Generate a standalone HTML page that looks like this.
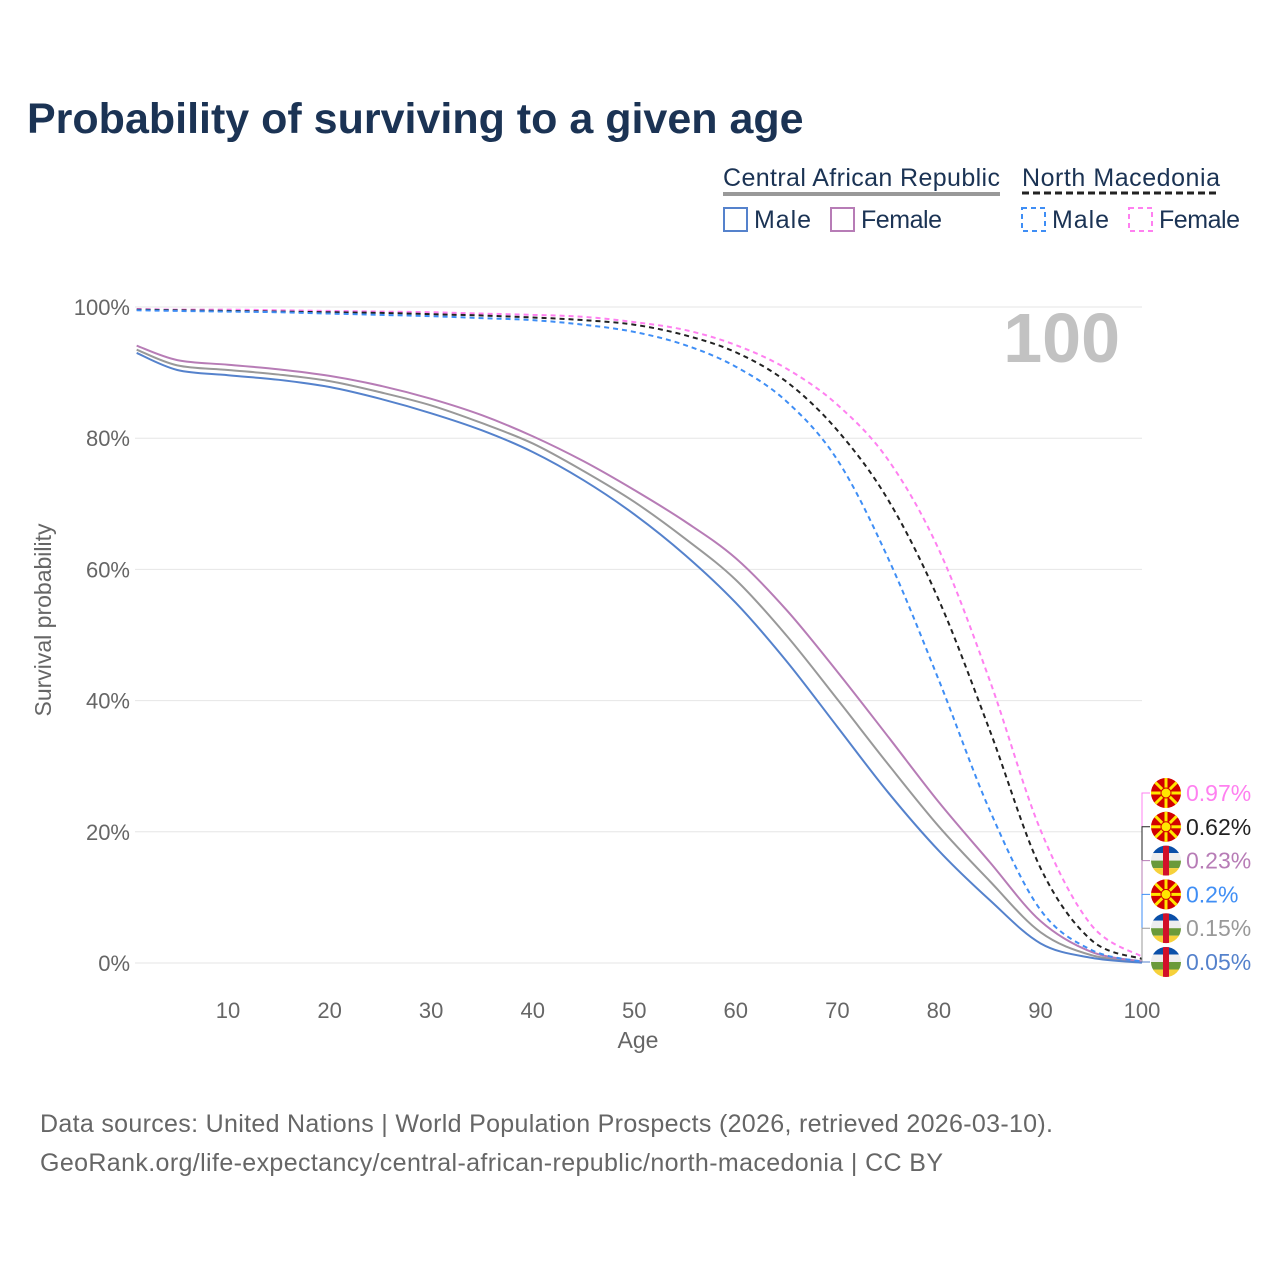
<!DOCTYPE html>
<html><head><meta charset="utf-8"><style>
body{margin:0;background:#fff;font-family:"Liberation Sans",sans-serif}
svg text{font-family:"Liberation Sans",sans-serif}
</style></head><body>
<svg id="c" width="1280" height="1280" xmlns="http://www.w3.org/2000/svg">
<text x="27" y="133" font-size="43" font-weight="bold" fill="#1b3354">Probability of surviving to a given age</text>
<g>
<text x="723" y="186" font-size="25" textLength="277" fill="#1b3354">Central African Republic</text>
<line x1="723" y1="194" x2="1000" y2="194" stroke="#999" stroke-width="4"/>
<text x="1022" y="186" font-size="25" textLength="198" fill="#1b3354">North Macedonia</text>
<line x1="1022" y1="193" x2="1220" y2="193" stroke="#222" stroke-width="3" stroke-dasharray="7,4"/>
<rect x="724" y="208" width="23" height="23" fill="none" stroke="#5582cc" stroke-width="2"/>
<text x="754" y="228" font-size="25" textLength="57" fill="#1b3354">Male</text>
<rect x="831" y="208" width="23" height="23" fill="none" stroke="#b77cb6" stroke-width="2"/>
<text x="861" y="228" font-size="25" textLength="81" fill="#1b3354">Female</text>
<rect x="1022" y="208" width="23" height="23" fill="none" stroke="#3f8ef5" stroke-width="2" stroke-dasharray="5,4"/>
<text x="1052" y="228" font-size="25" textLength="57" fill="#1b3354">Male</text>
<rect x="1129" y="208" width="23" height="23" fill="none" stroke="#ff80f0" stroke-width="2" stroke-dasharray="5,4"/>
<text x="1159" y="228" font-size="25" textLength="81" fill="#1b3354">Female</text>
</g>
<g id="grid"></g>
<text x="1120" y="362" font-size="70" font-weight="bold" fill="#c2c2c2" text-anchor="end">100</text>
<g id="lines"></g>
<g id="labels"></g>
<text x="638" y="1048" font-size="23" fill="#666" text-anchor="middle">Age</text>
<text transform="translate(51,620) rotate(-90)" font-size="23" fill="#666" text-anchor="middle">Survival probability</text>
<text x="40" y="1132" font-size="25" textLength="1013" fill="#666">Data sources: United Nations | World Population Prospects (2026, retrieved 2026-03-10).</text>
<text x="40" y="1171" font-size="25" textLength="903" fill="#666">GeoRank.org/life-expectancy/central-african-republic/north-macedonia | CC BY</text>
</svg>
<script>
const ages=[1,5,10,15,20,25,30,35,40,45,50,55,60,65,70,75,80,85,90,95,100];
const cafMale=[93.0,90.4,89.6,88.9,87.8,86.0,83.8,81.2,77.9,73.6,68.4,62.2,54.9,46.0,36.0,26.0,17.1,9.6,3.0,0.8,0.05];
const cafTotal=[93.5,91.1,90.4,89.7,88.7,87.0,85.0,82.3,79.2,75.0,70.3,64.7,58.4,49.9,40.2,30.3,20.8,12.5,4.7,1.2,0.15];
const cafFemale=[94.1,91.9,91.2,90.5,89.5,88.0,86.0,83.5,80.3,76.5,72.1,67.3,61.7,53.8,44.4,34.5,24.5,15.4,6.4,1.7,0.23];
const mkdMale=[99.5,99.4,99.3,99.2,99.0,98.8,98.6,98.3,98.0,97.3,96.2,94.2,90.9,85.6,76.7,61.7,43.1,23.3,8.1,2.0,0.2];
const mkdTotal=[99.6,99.5,99.4,99.3,99.2,99.1,98.9,98.7,98.4,98.0,97.3,95.7,93.1,88.6,81.2,70.6,55.3,35.5,14.5,3.5,0.62];
const mkdFemale=[99.7,99.6,99.6,99.5,99.4,99.3,99.2,99.0,98.8,98.5,97.7,96.5,94.2,90.6,85.1,76.7,63.0,43.1,20.3,5.8,0.97];
const xTicks=[10,20,30,40,50,60,70,80,90,100];
const yTicks=[0,20,40,60,80,100];
const endLabels=["0.97%","0.62%","0.23%","0.2%","0.15%","0.05%"];
const NS="http://www.w3.org/2000/svg";
const X=a=>126.5+(a)*(1142-126.5)/100;
const Y=v=>963-v*(963-307)/100;
function mk(t,at,p){const e=document.createElementNS(NS,t);for(const k in at)e.setAttribute(k,at[k]);p.appendChild(e);return e;}
const grid=document.getElementById('grid');
yTicks.forEach(v=>{
 const l=mk('line',{x1:135,x2:1142,y1:Y(v),y2:Y(v),stroke:'#e6e6e6','stroke-width':1},grid);
 
 
 const t=mk('text',{x:130,y:Y(v)+8,'font-size':22,fill:'#666','text-anchor':'end'},grid);
 t.textContent=v+'%';
 
 
});
xTicks.forEach(a=>{
 const t=mk('text',{x:X(a),y:1018,'font-size':22,fill:'#666','text-anchor':'middle'},grid);
 t.textContent=a;
 
 
});
function path(vals){
 const p=ages.map((a,i)=>[X(a),Y(vals[i])]);
 let d='M'+p[0][0]+','+p[0][1];
 for(let i=0;i<p.length-1;i++){
  const p0=p[i-1]||p[i],p1=p[i],p2=p[i+1],p3=p[i+2]||p2;
  const c1=[p1[0]+(p2[0]-p0[0])/6,p1[1]+(p2[1]-p0[1])/6];
  const c2=[p2[0]-(p3[0]-p1[0])/6,p2[1]-(p3[1]-p1[1])/6];
  d+=`C${c1[0]},${c1[1]} ${c2[0]},${c2[1]} ${p2[0]},${p2[1]}`;
 }
 return d;
}
const lines=document.getElementById('lines');
const series=[
 ['caf-total',cafTotal,'#999',''],['caf-female',cafFemale,'#b77cb6',''],['caf-male',cafMale,'#5582cc',''],
 ['mkd-female',mkdFemale,'#ff80f0','5,4'],['mkd-total',mkdTotal,'#222','5,4'],['mkd-male',mkdMale,'#3f8ef5','5,4']];
series.forEach(s=>{
 const e=mk('path',{d:path(s[1]),fill:'none',stroke:s[2],'stroke-width':2,'stroke-dasharray':s[3]},lines);
 
 
});
const lab=document.getElementById('labels');
const order=[['mkd',mkdFemale,'#ff80f0'],['mkd',mkdTotal,'#222'],['caf',cafFemale,'#b77cb6'],['mkd',mkdMale,'#3f8ef5'],['caf',cafTotal,'#999'],['caf',cafMale,'#5582cc']];
order.forEach((o,i)=>{
 const ly=793+i*33.8;
 mk('polyline',{points:`1142,${Y(o[1][o[1].length-1])} 1142,${ly} 1150,${ly}`,fill:'none',stroke:o[2],'stroke-width':1},lab);
 const g=mk('g',{},lab);
 
 
 const cx=1166;
 if(o[0]==='mkd'){
  mk('circle',{cx:cx,cy:ly,r:15,fill:'#d20000'},g);
  for(let k=0;k<8;k++){const a=k*Math.PI/4;mk('line',{x1:cx,y1:ly,x2:cx+15*Math.cos(a),y2:ly+15*Math.sin(a),stroke:'#ffe600','stroke-width':3},g);}
  mk('circle',{cx:cx,cy:ly,r:5,fill:'#ffe600',stroke:'#d20000','stroke-width':1},g);
 } else {
  mk('clipPath',{id:'cp'+i},g).appendChild(document.createElementNS(NS,'circle'));
  const cc=g.lastChild.firstChild;cc.setAttribute('cx',cx);cc.setAttribute('cy',ly);cc.setAttribute('r',15);
  const gg=mk('g',{'clip-path':`url(#cp${i})`},g);
  ['#0a4fa8','#eee','#6a9a3a','#f6d13a'].forEach((c,k)=>mk('rect',{x:cx-15,y:ly-15+k*7.5,width:30,height:7.5,fill:c},gg));
  mk('rect',{x:cx-3,y:ly-15,width:6,height:30,fill:'#d2102a'},gg);
 }
 const t=mk('text',{x:1186,y:ly+8,'font-size':23,fill:o[2]},lab);
 t.textContent=endLabels[i];
 
 
});
</script>
</body></html>
